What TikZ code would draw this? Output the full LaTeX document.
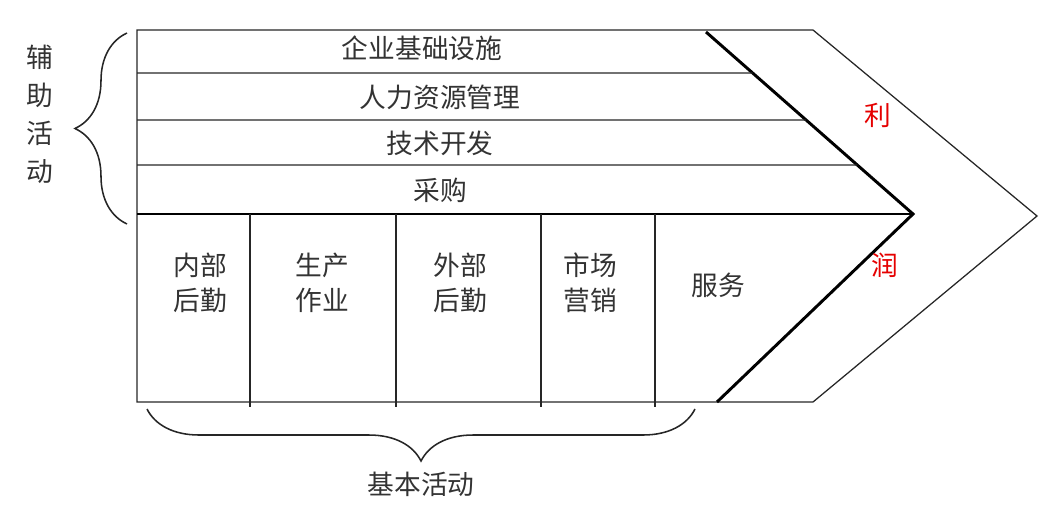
\documentclass[tikz,border=0pt]{standalone}
\usepackage{fontspec}
\newfontfamily\cjk{Noto Sans CJK SC}
\usetikzlibrary{calc,decorations.pathreplacing}

\begin{document}
\begin{tikzpicture}[x=0.025cm, y=-0.025cm,
  lbl/.style={font=\cjk\fontsize{19}{25}\selectfont, text=black!80,
    align=center, inner sep=0pt},
  profit/.style={lbl, text=red!90!black},
  thinline/.style={line width=0.9pt, black!85},
  thickline/.style={line width=2.1pt},
  bracket/.style={thinline, line width=1.1pt,
    decorate, decoration={brace, amplitude=#1}}]
\useasboundingbox (0,0) rectangle (1062,505);

% chevron outline
\coordinate (nw) at (137,30);
\coordinate (ne) at (813,30);
\coordinate (tip) at (1037,216);
\coordinate (se) at (813,402);
\coordinate (sw) at (137,402);
\draw[thinline] (nw) -- (ne) -- (tip) -- (se) -- (sw) -- cycle;

% inner margin edge
\coordinate (mtop) at (706,32);
\coordinate (mtip) at (913,214);
\coordinate (mbot) at (717,402);
\draw[thickline] (mtop) -- (mtip) -- (mbot);
\draw[thickline] (137,214) -- (mtip);

% support activity rows
\foreach \y in {73,120,165}
  \draw[thinline] (137,\y) -- ($(mtop)!{(\y-32)/182}!(mtip)$);

\node[lbl] (infra) at (422,48) {企业基础设施};
\node[lbl] (hrm)   at (440,97) {人力资源管理};
\node[lbl] (tech)  at (440,143) {技术开发};
\node[lbl] (buy)   at (440,190) {采购};

% primary activity columns
\foreach \x in {250,396,541,655}
  \draw[thinline] (\x,214) -- (\x,407);

\node[lbl] (inlog)  at (200,283) {内部\\后勤};
\node[lbl] (ops)    at (322,283) {生产\\作业};
\node[lbl] (outlog) at (460,283) {外部\\后勤};
\node[lbl] (mkt)    at (590,283) {市场\\营销};
\node[lbl] (serv)   at (718,285) {服务};

\node[profit] (li)  at (878,115) {利};
\node[profit] (run) at (885,265) {润};

% braces
\coordinate (lbtop) at (127,33);
\coordinate (lbbot) at (127,224);
\draw[bracket=1.3cm] (lbbot) -- (lbtop);
\node[lbl, font=\cjk\fontsize{19}{27}\selectfont] (support) at (40,114) {辅\\助\\活\\动};

\coordinate (bbl) at (147,409);
\coordinate (bbr) at (695,409);
\draw[bracket=1.3cm] (bbr) -- (bbl);
\node[lbl] (primary) at (421,484) {基本活动};
\end{tikzpicture}
\end{document}
